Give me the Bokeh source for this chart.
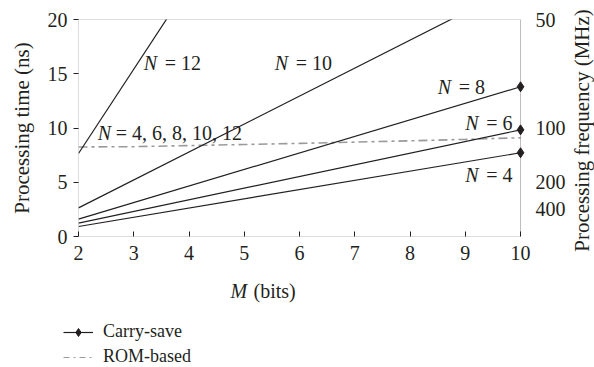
import math
from bokeh.plotting import figure
from bokeh.layouts import column, row
from bokeh.models import (Range1d, LinearAxis, FixedTicker, Label, Legend, LegendItem,
                          BoxAnnotation)
from bokeh.embed import file_html
from bokeh.resources import INLINE

# Operand width M (bits) and carry-save processing time (ns) for each N
m_bits = [2, 10]
cs_time_n4 = [0.92, 7.72]
cs_time_n6 = [1.23, 9.83]
cs_time_n8 = [1.60, 13.80]
cs_time_n10 = [2.64, 23.25]
cs_time_n12 = [7.65, 69.80]

# ROM-based processing time (ns), identical for N = 4, 6, 8, 10, 12
rom_m = [2, 3, 4, 5, 6, 7, 8, 9, 10]
rom_time = [8.25, 8.28, 8.38, 8.48, 8.58, 8.70, 8.82, 8.95, 9.10]

# Axis ticks: time (ns) on the left, frequency (MHz) = 1000 / time on the right
m_ticks = [2, 3, 4, 5, 6, 7, 8, 9, 10]
time_ticks = [0, 5, 10, 15, 20]
freq_labels = [50, 100, 200, 400]

FONT = "Liberation Serif"
INK = "#231f20"
GREY = "#9a9a9a"
TICK_FS = "20px"
TITLE_FS = "21px"
XTITLE_FS = "20px"
LEG_FS = "18px"
LFS = "20px"

# Plot area spans M = 2..10; a few extra pixels on the right keep the end markers whole
X_MIN, X_MAX, Y_MIN, Y_MAX = 2, 10, 0, 20
pad = (X_MAX - X_MIN) * 8 / 444


def blank_strip(w, h):
    f = figure(width=w, height=h, output_backend="svg", toolbar_location=None,
               x_axis_type=None, y_axis_type=None,
               x_range=Range1d(0, w), y_range=Range1d(0, h),
               min_border_left=0, min_border_right=0, min_border_top=0,
               min_border_bottom=0, frame_align=False)
    f.grid.visible = False
    f.outline_line_color = None
    f.background_fill_color = "white"
    f.border_fill_color = "white"
    return f


p = figure(width=568, height=270, output_backend="svg", toolbar_location=None,
           x_range=Range1d(X_MIN, X_MAX + pad), y_range=Range1d(Y_MIN, Y_MAX),
           min_border_left=78, min_border_right=38, min_border_top=19,
           min_border_bottom=34, frame_align=False)
p.grid.visible = False
p.outline_line_color = None
p.background_fill_color = "white"
p.border_fill_color = "white"

xa = p.xaxis[0]
xa.ticker = FixedTicker(ticks=m_ticks)
ya = p.yaxis[0]
ya.ticker = FixedTicker(ticks=time_ticks)
ya.axis_label = "Processing time (ns)"
for ax in (xa, ya):
    ax.axis_line_color = None
    ax.major_tick_line_color = INK
    ax.minor_tick_line_color = None
    ax.major_label_text_font = FONT
    ax.major_label_text_font_size = TICK_FS
    ax.major_label_text_color = INK
    ax.axis_label_text_font = FONT
    ax.axis_label_text_font_size = TITLE_FS
    ax.axis_label_text_font_style = "normal"
    ax.axis_label_text_color = INK
xa.major_tick_in = 5
xa.major_tick_out = 0
xa.major_label_standoff = 9
ya.major_tick_in = 0
ya.major_tick_out = 5
ya.major_label_standoff = 6
ya.axis_label_standoff = 11

freq_ticks = [1000.0 / f for f in freq_labels]
ra = LinearAxis(ticker=FixedTicker(ticks=freq_ticks),
                major_label_overrides={t: str(f) for t, f in zip(freq_ticks, freq_labels)})
ra.axis_line_color = None
ra.major_tick_in = 0
ra.major_tick_out = 0
ra.minor_tick_line_color = None
ra.major_label_standoff = 7
ra.major_label_text_font = FONT
ra.major_label_text_font_size = TICK_FS
ra.major_label_text_color = INK
p.add_layout(ra, "right")

# Box round the plot area
p.add_layout(BoxAnnotation(left=X_MIN, right=X_MAX, bottom=Y_MIN, top=Y_MAX,
                           fill_alpha=0, line_color=INK, line_width=1))

# ROM-based line
p.line(rom_m, rom_time, line_color=GREY, line_width=1.6, line_dash="9 4 3 4")

# Carry-save lines with a diamond at the M = 10 end
for series in (cs_time_n4, cs_time_n6, cs_time_n8, cs_time_n10, cs_time_n12):
    p.line(m_bits, series, line_color=INK, line_width=1.2)
    p.scatter([m_bits[-1]], [series[-1]], marker="diamond", size=10,
              fill_color=INK, line_color=INK, level="overlay")

# Curve labels: italic N, then "= value" (text, x, y, offset of the "=" part)
labels = [
    ("= 12", 3.18, 16.0, 21),
    ("= 10", 5.55, 16.0, 21),
    ("= 8", 8.50, 13.8, 21),
    ("= 6", 9.00, 10.45, 21),
    ("= 4", 9.00, 5.7, 21),
    ("= 4, 6, 8, 10, 12", 2.35, 9.5, 18),
]
for txt, x, y, eq_off in labels:
    common = dict(x=x, y=y, text_font=FONT, text_font_size=LFS, text_color=INK,
                  text_align="left", text_baseline="middle")
    p.add_layout(Label(text="N", text_font_style="italic", **common))
    p.add_layout(Label(text=txt, x_offset=eq_off, **common))

# Lower strip: x-axis title and legend
q = blank_strip(568, 97)
q.add_layout(Label(x=230, y=77, x_units="screen", y_units="screen", text="M",
                   text_font=FONT, text_font_size=XTITLE_FS, text_font_style="italic",
                   text_color=INK, text_baseline="middle"))
q.add_layout(Label(x=253, y=77, x_units="screen", y_units="screen", text="(bits)",
                   text_font=FONT, text_font_size=XTITLE_FS, text_color=INK,
                   text_baseline="middle"))

nan = float("nan")
leg_cs_line = q.line([nan], [nan], line_color=INK, line_width=1.2)
leg_cs_pt = q.scatter([nan], [nan], marker="diamond", size=9, fill_color=INK,
                      line_color=INK)
leg_rom = q.line([nan], [nan], line_color=GREY, line_width=1.0, line_dash="6 4 2 4")
legend = Legend(items=[
    LegendItem(label="Carry-save", renderers=[leg_cs_line, leg_cs_pt]),
    LegendItem(label="ROM-based", renderers=[leg_rom]),
], location=(63, 0))
legend.label_text_font = FONT
legend.label_text_font_size = LEG_FS
legend.label_text_color = INK
legend.border_line_color = None
legend.background_fill_alpha = 0
legend.glyph_width = 30
legend.label_standoff = 10
legend.spacing = 4
legend.padding = 2
legend.margin = 0
legend.label_height = 20
legend.glyph_height = 20
q.add_layout(legend, "center")

# Right strip: frequency axis title, reading upwards
r = blank_strip(26, 367)
r.add_layout(Label(x=13, y=237, x_units="screen", y_units="screen",
                   text="Processing frequency (MHz)", angle=math.pi / 2,
                   text_font=FONT, text_font_size=TITLE_FS, text_color=INK,
                   text_align="center", text_baseline="middle"))

layout = row(column(p, q, spacing=0), r, spacing=0)
open("out.html", "w").write(file_html(layout, INLINE))
